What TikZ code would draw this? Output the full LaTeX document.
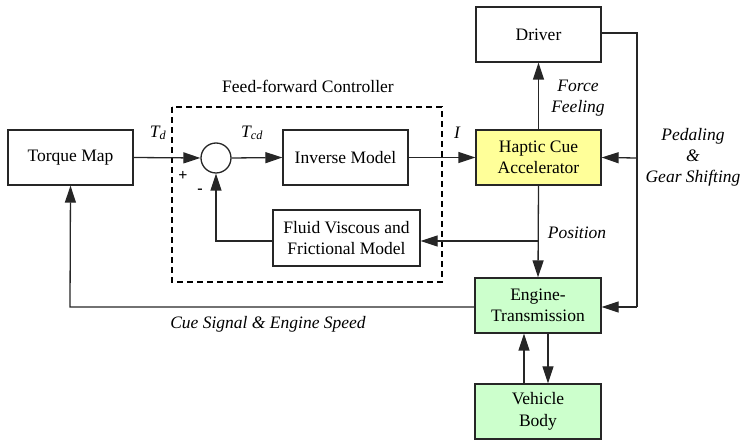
\documentclass[tikz,border=0pt]{standalone}
\usepackage{fontspec}
\setmainfont{Liberation Serif}
\newfontfamily\tnr{Liberation Serif}
\usetikzlibrary{arrows.meta,calc}
\definecolor{hapticfill}{HTML}{FFFF99}
\definecolor{greenfill}{HTML}{CCFFCC}
\definecolor{linec}{HTML}{262626}
\begin{document}
\begin{tikzpicture}[x=1pt,y=-1pt,
  blk/.style={draw=linec,line width=1.3pt,minimum width=125pt,minimum height=55pt,align=center,inner sep=1pt,font=\tnr\fontsize{17.5}{21.5}\selectfont},
  lbl/.style={font=\tnr\fontsize{17.5}{21}\selectfont\itshape,align=center,inner sep=0pt},
  sgn/.style={font=\tnr\fontsize{16}{18}\selectfont\bfseries,inner sep=0pt},
  con/.style={line width=1.3pt,draw=linec,-{Triangle[length=17pt,width=11pt]}},
  ln/.style={line width=1.3pt,draw=linec}]
\useasboundingbox (0,0) rectangle (745,443);
% dashed controller frame
\draw[line width=1.5pt,dash pattern=on 6pt off 4pt] (172,107) rectangle (442,282);
\node[font=\tnr\fontsize{17.5}{21}\selectfont] (fftitle) at (308,86) {Feed-forward Controller};
% blocks
\node[blk] (tm) at (70.5,157.5) {Torque Map};
\node[draw=linec,line width=1.3pt,circle,minimum size=30pt,inner sep=0pt] (sum) at (216,158) {};
\node[blk] (inv) at (345.5,157.5) {Inverse Model};
\node[blk,fill=hapticfill] (hap) at (538.5,157.5) {Haptic Cue\\Accelerator};
\node[blk] (drv) at (538.5,34.5) {Driver};
\node[blk,minimum width=147pt,minimum height=56pt] (fluid) at (346.5,238) {Fluid Viscous and\\Frictional Model};
\node[blk,fill=greenfill,minimum width=126pt] (eng) at (538,305.5) {Engine-\\Transmission};
\node[blk,fill=greenfill,minimum width=126pt] (veh) at (538,411.5) {Vehicle\\Body};
% coordinates
\coordinate (rtop) at (637,33);
\coordinate (rmid) at (637,158);
\coordinate (rbot) at (637,307);
\coordinate (posbr) at (538,241);
\coordinate (fbl) at (216,241);
\coordinate (cuel) at (70,307);
% connectors
\draw[con] (tm.east) -- (sum.west);
\draw[con] (sum.east) -- (inv.west);
\draw[con] (inv.east) -- (hap.west);
\draw[con] (hap.north) -- (drv.south);
\draw[ln] (drv.east |- rtop) -- (rtop) -- (rbot);
\draw[con] (rmid) -- (hap.east);
\draw[con] (rbot) -- (eng.east |- rbot);
\draw[con] (hap.south) -- (eng.north);
\draw[con] (posbr) -- (fluid.east |- posbr);
\draw[con] (fluid.west |- fbl) -- (fbl) -- (sum.south);
\draw[con] (eng.west |- cuel) -- (cuel) -- (tm.south);
\draw[con] ($(eng.south)+(10,0)$) -- ($(veh.north)+(10,0)$);
\draw[con] ($(veh.north)+(-14,0)$) -- ($(eng.south)+(-14,0)$);
% labels
\node[lbl] (ltd) at (158,133) {T\textsubscript{d}};
\node[lbl] (ltcd) at (252,133) {T\textsubscript{cd}};
\node[lbl] (li) at (457,133) {I};
\node[sgn] (lplus) at (183,176) {+};
\node[sgn] (lminus) at (200,191) {-};
\node[lbl] (lforce) at (578,98) {Force\\Feeling};
\node[lbl] (lped) at (693,157) {Pedaling\\\&\\Gear Shifting};
\node[lbl] (lpos) at (577,233) {Position};
\node[lbl] (lcue) at (268,324) {Cue Signal \& Engine Speed};
\end{tikzpicture}
\end{document}
